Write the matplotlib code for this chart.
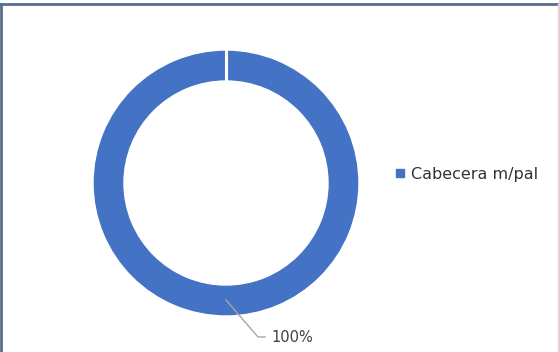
import matplotlib.pyplot as plt
from matplotlib.lines import Line2D
from matplotlib.patches import Patch

labels = ["Cabecera m/pal"]
values = [100]
pct_labels = ["100%"]

fig = plt.figure(figsize=(5.59, 3.52), dpi=100)
ax = fig.add_axes([0, 0, 1, 1])
ax.set_xlim(0, 559)
ax.set_ylim(352, 0)
ax.set_aspect("equal")
ax.axis("off")

blue = "#4472C4"
cx, cy, r_out, ring = 226, 183, 133, 31
wedges, _ = ax.pie(values, center=(cx, cy), radius=r_out, startangle=90,
                   counterclock=False, colors=[blue],
                   wedgeprops=dict(width=ring, edgecolor="white", linewidth=1.0))
ax.set_xlim(0, 559)
ax.set_ylim(352, 0)

# slice border at the start angle (white seam at 12 o'clock)
ax.plot([cx, cx], [cy - r_out - 1, cy - r_out + ring + 1], color="white", lw=2.2)

# data label with leader line
ax.plot([cx, 258, 265], [300, 337, 337], color="#a6a6a6", lw=1)
ax.text(271, 338, pct_labels[0], fontsize=10.5, color="#404040", va="center", ha="left")

# legend
ax.legend(handles=[Patch(color=blue, label=labels[0])], loc="center left",
          bbox_to_anchor=(382 / 559, 1 - 174 / 352), frameon=False,
          fontsize=11.5, handlelength=0.45, handleheight=0.45, handletextpad=0.45,
          labelcolor="#333333")

# outer frame
fig.add_artist(Line2D([0, 1], [1 - 3.5 / 352] * 2, color="#5b6e8e", lw=2, transform=fig.transFigure))
fig.add_artist(Line2D([1.5 / 559] * 2, [0, 1 - 3.5 / 352], color="#5b6e8e", lw=2, transform=fig.transFigure))
fig.add_artist(Line2D([557.5 / 559] * 2, [0, 1 - 3.5 / 352], color="#d9d9d9", lw=1, transform=fig.transFigure))

fig.savefig("out.png", dpi=100)
